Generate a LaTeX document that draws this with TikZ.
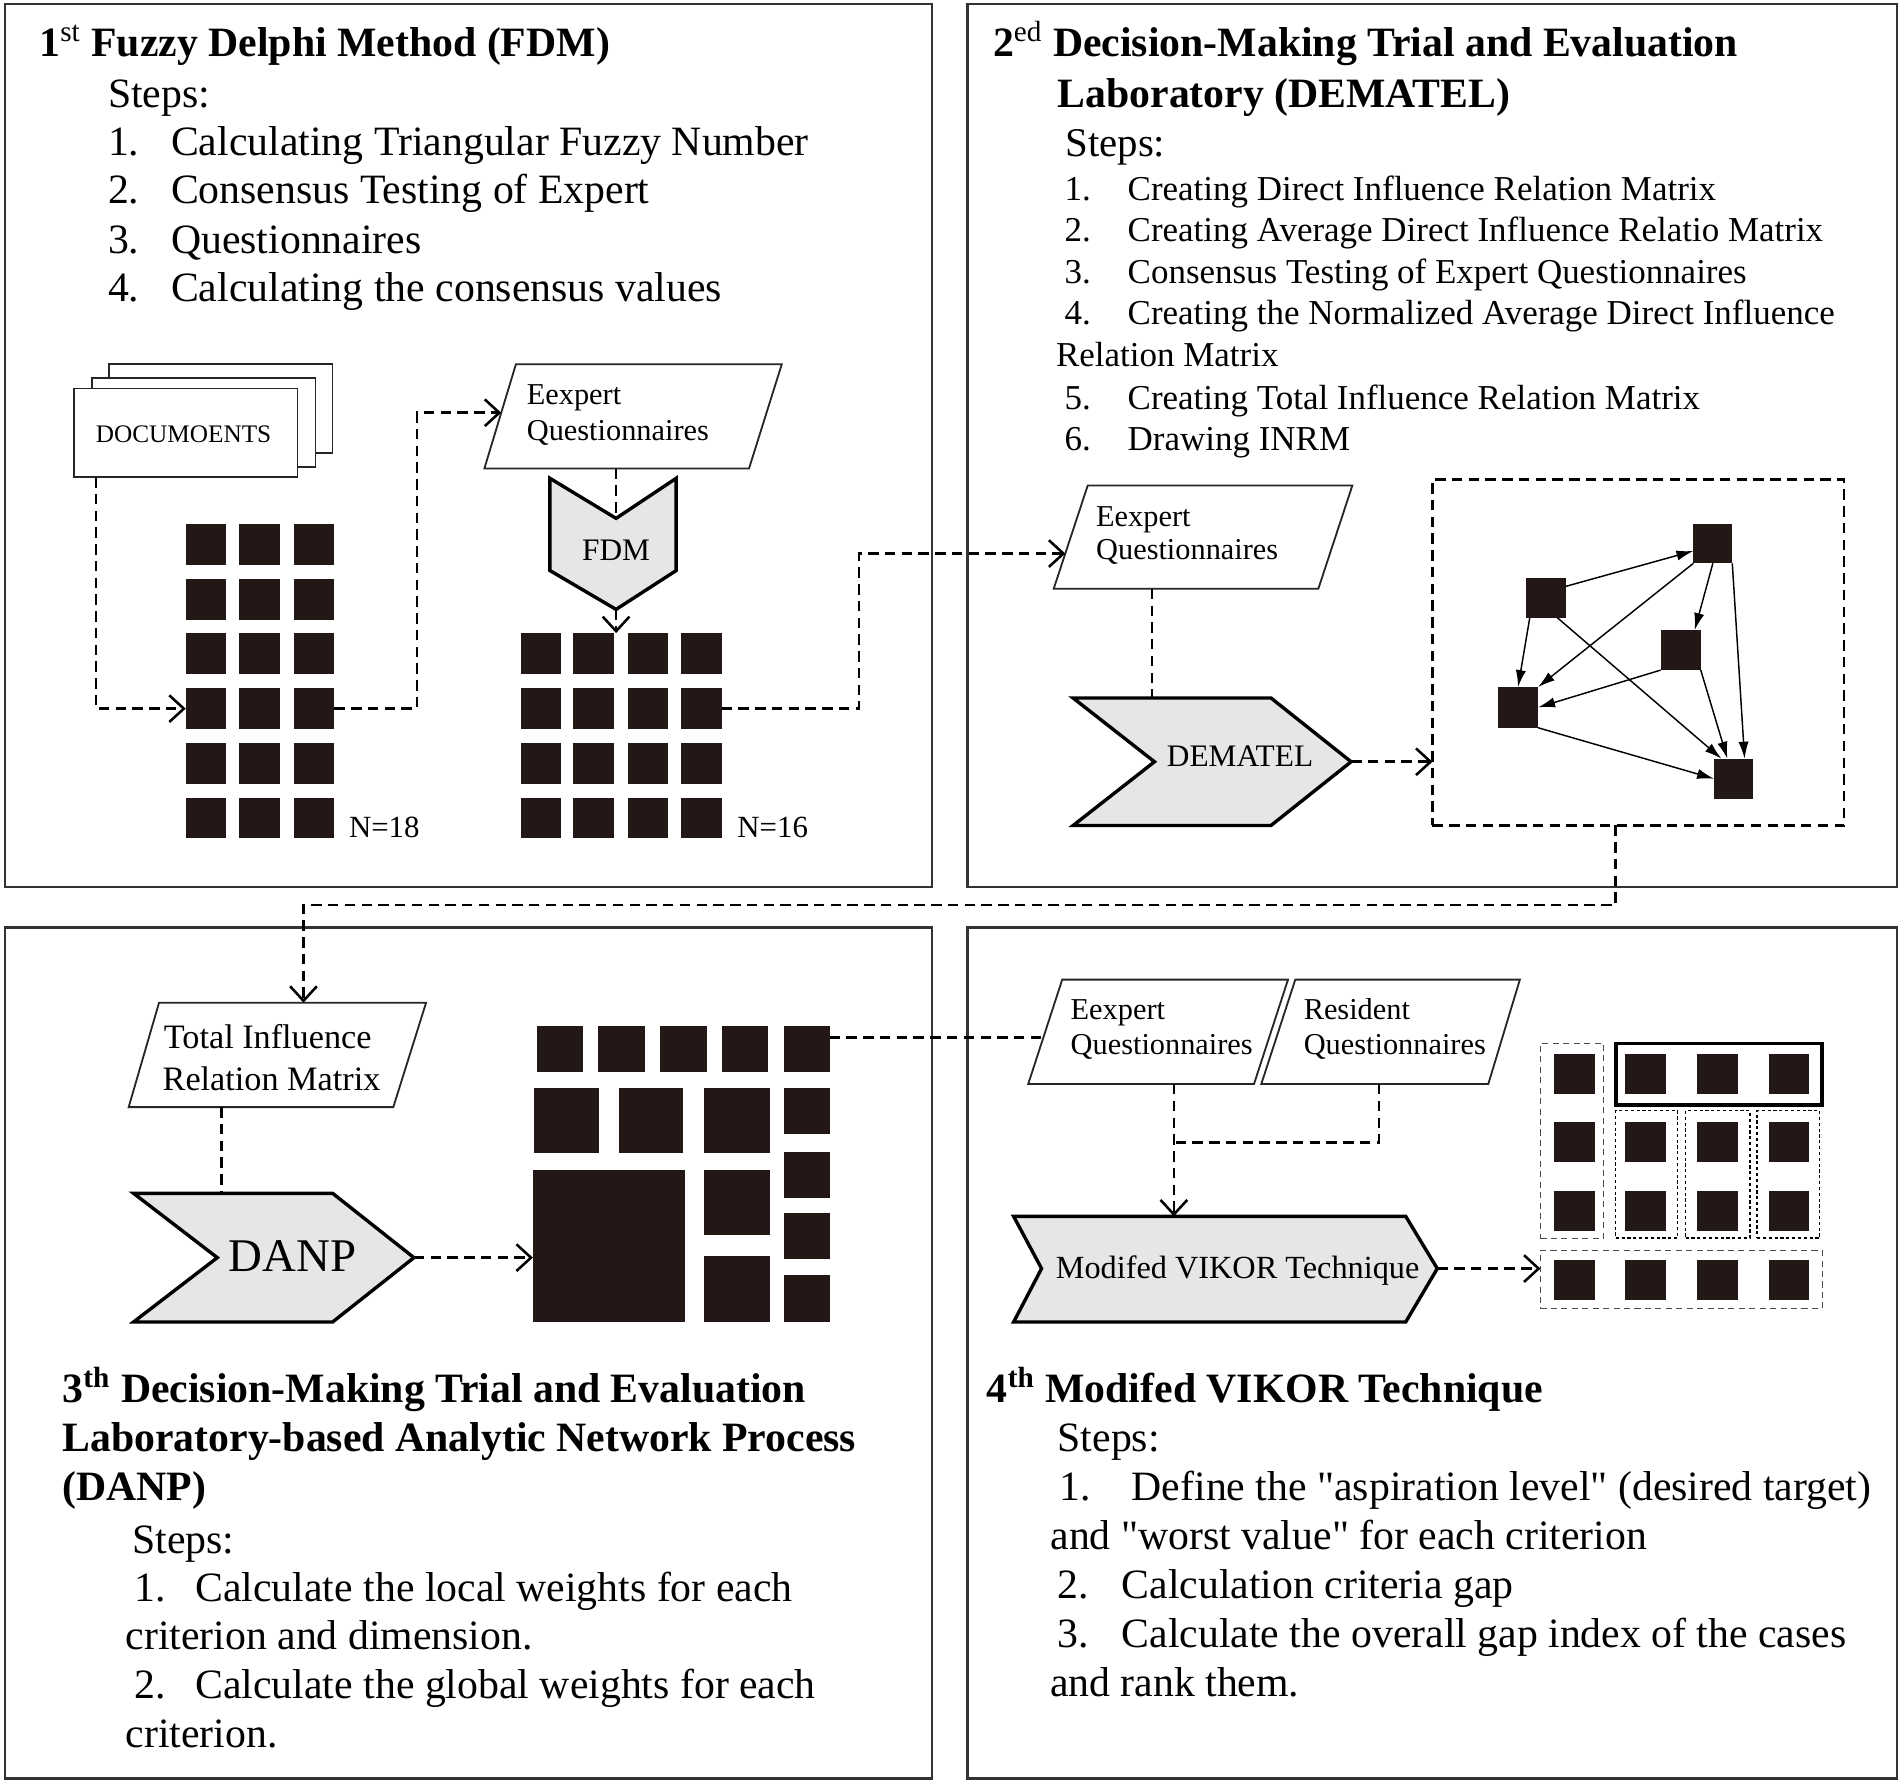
\documentclass[tikz,border=0pt]{standalone}
\usepackage{fontspec}
\setmainfont{Liberation Serif}
\usetikzlibrary{arrows.meta,calc}
\definecolor{sqc}{HTML}{231815}
\definecolor{chevc}{HTML}{E6E6E6}
\newcommand\mkrect[6][]{\node[inner sep=0pt,outer sep=0pt,#1,minimum width={(#5-#3)*0.5pt},minimum height={(#6-#4)*0.5pt}] (#2) at ({(#3+#5)/2},{(#4+#6)/2}) {};}
\newcommand\strq{\XeTeXglyph\XeTeXcharglyph"22\relax}
\begin{document}
\begin{tikzpicture}[x=0.5pt,y=-0.5pt,
  frame/.style={draw=black!80, line width=0.9pt},
  txt/.style={anchor=base west, inner sep=0pt, outer sep=0pt},
  ttl/.style={txt, font=\fontsize{17.2}{20}\selectfont\bfseries},
  body/.style={txt, font=\fontsize{17.2}{20}\selectfont},
  itm/.style={txt, font=\fontsize{14.4}{17}\selectfont},
  lbl/.style={txt, font=\fontsize{12.5}{15}\selectfont},
  ctr/.style={anchor=base, inner sep=0pt, outer sep=0pt},
  sq/.style={fill=sqc},
  docst/.style={draw=black!85, fill=white, line width=0.7pt},
  para/.style={draw=black!85, fill=white, line width=0.75pt},
  chevst/.style={draw=black, fill=chevc, line width=1.4pt, line join=miter},
  conn/.style={line width=1.05pt, dash pattern=on 4.3pt off 2.6pt},
  arr/.style={conn, -{Straight Barb[length=6pt,width=11pt]}},
  netarr/.style={line width=0.6pt, -{Latex[length=7pt,width=4.2pt]}},
  thinbox/.style={draw=black!70, line width=0.45pt, dash pattern=on 2.5pt off 1.8pt},
  dotbox/.style={draw=black, line width=0.6pt, dash pattern=on 1.3pt off 1.1pt},
  solidbox/.style={draw=black, line width=1.5pt}]
\fill[white] (0,0) rectangle (1566,1468);
\useasboundingbox (0,0) rectangle (1566,1468);

% frames
\mkrect[frame]{Q1}{4}{3}{768}{731}
\mkrect[frame]{Q2}{797}{3}{1563}{731}
\mkrect[frame]{Q3}{4}{764}{768}{1465}
\mkrect[frame]{Q4}{797}{764}{1563}{1465}

% ---------------- Q1 ----------------
\node[ttl] (t1) at (32.5,46.7) {1\textsuperscript{\mdseries st} Fuzzy Delphi Method (FDM)};
\node[body] (s1) at (89,88.4) {Steps:};
\node[body] (s1a) at (89,128.5) {\makebox[26pt][l]{1.}Calculating Triangular Fuzzy Number};
\node[body] (s1b) at (89,167.5) {\makebox[26pt][l]{2.}Consensus Testing of Expert};
\node[body] (s1c) at (89,208.7) {\makebox[26pt][l]{3.}Questionnaires};
\node[body] (s1d) at (89,248.5) {\makebox[26pt][l]{4.}Calculating the consensus values};

\mkrect[docst]{docs3}{90}{300}{274}{373}
\mkrect[docst]{docs2}{76}{311.5}{260}{384.5}
\mkrect[docst]{docs}{61}{320}{245}{393}
\node[txt, font=\fontsize{10.4}{12}\selectfont] (doct) at (79,364.3) {DOCUMOENTS};

\foreach \c/\x in {1/153,2/197,3/242}{
  \foreach \r/\y in {1/432,2/477,3/521.5,4/567,5/612,6/657}{
    \mkrect[sq]{ga\r\c}{\x}{\y}{\x+33.5}{\y+33.5}}}
\foreach \c/\x in {1/429,2/472,3/517,4/561}{
  \foreach \r/\y in {1/521.5,2/567,3/612,4/657}{
    \mkrect[sq]{gb\r\c}{\x}{\y}{\x+33.5}{\y+33.5}}}
\node[txt, font=\fontsize{12.7}{14}\selectfont] (n18) at (287.5,690) {N=18};
\node[txt, font=\fontsize{12.7}{14}\selectfont] (n16) at (607.5,690) {N=16};

\draw[para] (399,386) -- (617,386) -- (644,300) -- (425,300) -- cycle;
\node[lbl] (eq1a) at (434,333.3) {Eexpert};
\node[lbl] (eq1b) at (434,363.2) {Questionnaires};
\coordinate (eq1in) at (412.9,340);
\coordinate (eq1S) at (507.5,386);

\draw[chevst] (453,394) -- (507.5,427) -- (557,394) -- (557,470) -- (507.5,502) -- (453,470) -- cycle;
\coordinate (fdmN) at (507.5,427);
\coordinate (fdmS) at (507.5,502);
\node[ctr, font=\fontsize{12.9}{15}\selectfont] (fdmt) at (507.5,461.8) {FDM};

\draw[arr] ($(docs.south west)+(18,0)$) |- (ga41.west);
\draw[arr] (ga43.east) -- ++(68,0) |- (eq1in);
\draw[conn] (eq1S) -- (fdmN);
\draw[arr] (fdmS) -- (fdmS |- gb11.north);

% ---------------- Q2 ----------------
\node[ttl] (t2) at (818,46.7) {2\textsuperscript{\mdseries ed} Decision-Making Trial and Evaluation};
\node[ttl] (t2b) at (871.3,88.4) {Laboratory (DEMATEL)};
\node[txt, font=\fontsize{16.8}{20}\selectfont] (s2) at (877.8,129) {Steps:};
\node[itm] (s2a) at (877,164.8) {\makebox[26pt][l]{1.}Creating Direct Influence Relation Matrix};
\node[itm] (s2b) at (877,199) {\makebox[26pt][l]{2.}Creating Average Direct Influence Relatio Matrix};
\node[itm] (s2c) at (877,233.4) {\makebox[26pt][l]{3.}Consensus Testing of Expert Questionnaires};
\node[itm] (s2d) at (877,267.7) {\makebox[26pt][l]{4.}Creating the Normalized Average Direct Influence};
\node[itm] (s2e) at (870,302) {Relation Matrix};
\node[itm] (s2f) at (877,337.2) {\makebox[26pt][l]{5.}Creating Total Influence Relation Matrix};
\node[itm] (s2g) at (877,370.7) {\makebox[26pt][l]{6.}Drawing INRM};

\draw[para] (868,485) -- (1086,485) -- (1114,400) -- (896,400) -- cycle;
\node[lbl] (eq2a) at (903,433.3) {Eexpert};
\node[lbl] (eq2b) at (903,461.3) {Questionnaires};
\coordinate (eq2in) at (877.6,456);
\coordinate (eq2S) at (949,485);

\draw[chevst] (884,575) -- (1047,575) -- (1113,627.5) -- (1047,680) -- (884,680) -- (951,627.5) -- cycle;
\coordinate (demN) at (949,575);
\coordinate (demE) at (1113,627.5);
\node[ctr, font=\fontsize{12.9}{15}\selectfont] (demt) at (1021.5,631) {DEMATEL};

\mkrect[draw,conn]{netbox}{1180}{395}{1519}{680}
\mkrect[sq]{nA}{1257}{476}{1290}{509}
\mkrect[sq]{nB}{1395}{432}{1427}{464}
\mkrect[sq]{nC}{1368}{519}{1401}{552}
\mkrect[sq]{nD}{1234}{566}{1267}{599.5}
\mkrect[sq]{nE}{1412}{625}{1444}{658}
\draw[netarr] (nA.30) -- (nB.200);
\draw[netarr] (nB.south west) -- (nD.north east);
\draw[netarr] (nB.south) -- (nC.55);
\draw[netarr] (nB.south east) -- (nE.61);
\draw[netarr] (nA.231) -- (nD.north);
\draw[netarr] (nA.300) -- (nE.121);
\draw[netarr] (nC.south west) -- (nD.east);
\draw[netarr] (nC.south east) -- (nE.107);
\draw[netarr] (nD.south east) -- (nE.180);

\draw[arr] (gb24.east) -- ++(113,0) |- (eq2in);
\draw[conn] (eq2S) -- (demN);
\draw[arr] (demE) -- (demE -| netbox.west);

% ---------------- Q3 ----------------
\draw[para] (106,912) -- (324,912) -- (351,826) -- (131,826) -- cycle;
\node[txt, font=\fontsize{14.1}{17}\selectfont] (tq3a) at (135,863.6) {Total Influence};
\node[txt, font=\fontsize{14.1}{17}\selectfont] (tq3b) at (134,897.9) {Relation Matrix};
\coordinate (tq3in) at (250,826);
\coordinate (tq3S) at (182.5,912);

\draw[chevst] (110,983) -- (274,983) -- (341,1036) -- (274,1089) -- (110,1089) -- (179,1036) -- cycle;
\coordinate (danpN) at (182.5,983);
\coordinate (danpE) at (341,1036);
\node[ctr, font=\fontsize{19.3}{22}\selectfont] (danpt) at (241,1047.5) {DANP};

\mkrect[sq]{m11}{442.5}{845}{480}{883}
\mkrect[sq]{m12}{492.5}{845}{531}{883}
\mkrect[sq]{m13}{544}{845}{582.5}{883}
\mkrect[sq]{m14}{595}{845}{632.5}{883}
\mkrect[sq]{m15}{646}{845}{683.5}{883}
\mkrect[sq]{m21}{440}{896.5}{493.5}{950}
\mkrect[sq]{m22}{510}{896.5}{562.5}{950}
\mkrect[sq]{m23}{580}{896.5}{634}{950}
\mkrect[sq]{m24}{646}{896}{683.5}{934}
\mkrect[sq]{mbig}{439}{964}{564}{1089}
\mkrect[sq]{m33}{580}{964}{634}{1017}
\mkrect[sq]{m43}{580}{1035}{634}{1089}
\mkrect[sq]{m34}{646}{949}{683.5}{987}
\mkrect[sq]{m44}{646}{999.5}{683.5}{1037.5}
\mkrect[sq]{m54}{646}{1050.5}{683.5}{1089}

\node[ttl] (t3a) at (51.5,1155.5) {3\textsuperscript{th} Decision-Making Trial and Evaluation};
\node[ttl] (t3b) at (51.5,1195.9) {Laboratory-based Analytic Network Process};
\node[ttl] (t3c) at (51.5,1235.7) {(DANP)};
\node[body] (s3) at (109,1279.6) {Steps:};
\node[body] (s3a) at (111,1319.4) {\makebox[25pt][l]{1.}Calculate the local weights for each};
\node[body] (s3b) at (103.5,1358.7) {criterion and dimension.};
\node[body] (s3c) at (111,1399) {\makebox[25pt][l]{2.}Calculate the global weights for each};
\node[body] (s3d) at (103.5,1439.4) {criterion.};

\draw[arr] ($(netbox.south west)+(151,0)$) -- ++(0,65.6) -| (tq3in);
\draw[conn] (tq3S) -- (danpN);
\draw[arr] (danpE) -- (danpE -| mbig.west);

% ---------------- Q4 ----------------
\draw[para] (847,893) -- (1033,893) -- (1061,807) -- (875,807) -- cycle;
\draw[para] (1039,893) -- (1226,893) -- (1252,807) -- (1067,807) -- cycle;
\node[lbl] (eq4a) at (882,839.7) {Eexpert};
\node[lbl] (eq4b) at (882,869) {Questionnaires};
\node[lbl] (rq4a) at (1074,839.7) {Resident};
\node[lbl] (rq4b) at (1074,869) {Questionnaires};
\coordinate (eq4in) at (859.4,854.5);
\coordinate (eq4S) at (967,893);
\coordinate (resS) at (1136,893);

\draw[chevst] (835,1002) -- (1158,1002) -- (1184,1045) -- (1158,1089) -- (835,1089) -- (858,1045) -- cycle;
\coordinate (vikN) at (967,1002);
\coordinate (vikE) at (1184,1045);
\node[ctr, font=\fontsize{13.3}{16}\selectfont] (vikt) at (1019.5,1053) {Modifed VIKOR Technique};

\mkrect[thinbox]{bxc1}{1269}{859.5}{1321}{1020}
\mkrect[solidbox]{bxr1}{1331}{859.5}{1501}{910}
\mkrect[dotbox]{bxc2}{1331}{915}{1382}{1020}
\mkrect[dotbox]{bxc3}{1388.5}{915}{1441.5}{1020}
\mkrect[dotbox]{bxc4}{1447.5}{915}{1499}{1020}
\mkrect[thinbox]{botbox}{1269}{1030}{1501}{1078}
\foreach \c/\x in {1/1280,2/1339,3/1398,4/1457}{
  \foreach \r/\y in {1/868,2/924,3/981,4/1038}{
    \mkrect[sq]{gd\r\c}{\x}{\y}{\x+33.5}{\y+33}}}

\node[ttl] (t4) at (813,1155.5) {4\textsuperscript{th} Modifed VIKOR Technique};
\node[body] (s4) at (871.3,1195.9) {Steps:};
\node[body] (s4a) at (873,1235.7) {\makebox[29.7pt][l]{1.}Define the \strq aspiration level\strq{} (desired target)};
\node[body] (s4b) at (865.4,1276.3) {and \strq worst value\strq{} for each criterion};
\node[body] (s4c) at (871,1316.7) {\makebox[26.5pt][l]{2.}Calculation criteria gap};
\node[body] (s4d) at (871,1357.4) {\makebox[26.5pt][l]{3.}Calculate the overall gap index of the cases};
\node[body] (s4e) at (865,1397.2) {and rank them.};

\draw[conn] ($(m15.east)+(0,-9.5)$) -- (eq4in);
\draw[arr] (eq4S) -- (vikN);
\draw[conn] (resS) |- (eq4S |- 0,941);
\draw[arr] (vikE) -- (vikE -| botbox.west);
\end{tikzpicture}
\end{document}
